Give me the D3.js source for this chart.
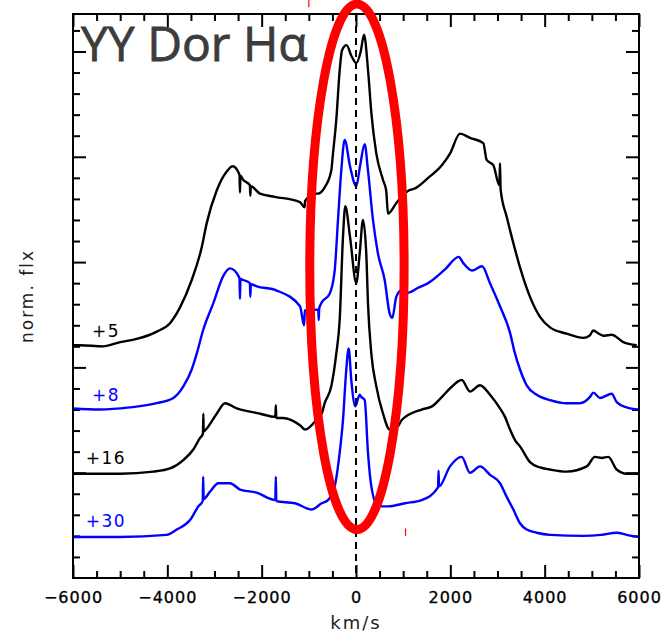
<!DOCTYPE html>
<html>
<head>
<meta charset="utf-8">
<script src="https://cdn.jsdelivr.net/npm/d3@7"></script>
<style>
    body { margin: 0; background: #fff; }
    svg text { font-family: "DejaVu Sans", sans-serif; }
</style>
</head>
<body>
<svg id="specsvg" width="664" height="637"></svg>
<script>
// spectra: [velocity km/s, normalised flux]
var spec5 = [[-6000, 1.01], [-5850, 1.01], [-5360, 1.00], [-5000, 1.04], [-4650, 1.07], [-4225, 1.14], [-3943, 1.22],
    [-3731, 1.37], [-3483, 1.63], [-3271, 1.94], [-3165, 2.17], [-2953, 2.48], [-2741, 2.66], [-2614, 2.71], [-2470, 2.63],
    [-2460, 2.46], [-2450, 2.62], [-2389, 2.58], [-2250, 2.53], [-2240, 2.43], [-2230, 2.52], [-2035, 2.45], [-1720, 2.42],
    [-1190, 2.37], [-1090, 2.32], [-1080, 2.38], [-870, 2.45], [-806, 2.45], [-664, 2.51], [-524, 2.67], [-488, 2.83],
    [-418, 3.15], [-346, 3.62], [-297, 3.81], [-200, 3.86], [-100, 3.76], [6, 3.69], [100, 3.80], [170, 3.96],
    [254, 3.63], [325, 3.22], [431, 2.83], [573, 2.58], [640, 2.48], [678, 2.26], [854, 2.36], [960, 2.42], [1117, 2.48],
    [1250, 2.50], [1530, 2.60], [1820, 2.72], [1993, 2.83], [2205, 3.02], [2417, 2.98], [2699, 2.93], [2770, 2.77],
    [2911, 2.72], [3040, 2.53], [3053, 2.74], [3066, 2.49], [3195, 2.23], [3336, 1.98], [3477, 1.75], [3689, 1.47],
    [3901, 1.28], [4113, 1.18], [4467, 1.12], [4819, 1.08], [4950, 1.10], [5031, 1.15], [5150, 1.12], [5243, 1.10],
    [5421, 1.11], [5667, 1.04], [5951, 1.01]];

var spec8 = [[-6000, 1.01], [-5427, 1.00], [-4800, 1.02], [-4225, 1.06], [-3873, 1.11], [-3660, 1.22], [-3483, 1.38],
    [-3377, 1.53], [-3237, 1.76], [-3025, 2.01], [-2813, 2.27], [-2671, 2.34], [-2470, 2.25], [-2460, 2.05], [-2450, 2.24],
    [-2396, 2.23], [-2250, 2.20], [-2240, 2.07], [-2230, 2.19], [-2105, 2.17], [-1681, 2.13], [-1187, 1.98], [-1100, 1.80],
    [-1085, 1.94], [-800, 1.95], [-790, 1.85], [-780, 1.96], [-736, 2.01], [-558, 2.10], [-452, 2.32], [-382, 2.80],
    [-312, 3.27], [-240, 3.56], [-127, 3.31], [6, 3.12], [85, 3.31], [184, 3.52], [254, 3.27], [360, 2.80], [466, 2.48],
    [608, 2.23], [714, 1.91], [770, 1.87], [854, 2.07], [960, 2.13], [1110, 2.11], [1330, 2.16], [1530, 2.20],
    [1887, 2.33], [2177, 2.45], [2275, 2.39], [2459, 2.32], [2671, 2.36], [2841, 2.20], [3053, 1.98], [3265, 1.73],
    [3360, 1.55], [3477, 1.38], [3619, 1.23], [3831, 1.14], [4113, 1.09], [4467, 1.06], [4749, 1.06], [4961, 1.12],
    [5031, 1.16], [5173, 1.11], [5421, 1.15], [5527, 1.07], [5739, 1.02], [5985, 1.00]];

var spec16 = [[-6000, 0.99], [-5003, 0.99], [-4297, 1.01], [-3943, 1.04], [-3661, 1.12], [-3449, 1.22], [-3307, 1.33],
    [-3245, 1.37], [-3237, 1.56], [-3229, 1.39], [-3165, 1.42], [-2953, 1.56], [-2777, 1.66], [-2529, 1.61], [-2247, 1.58],
    [-2035, 1.56], [-1710, 1.53], [-1700, 1.64], [-1690, 1.52], [-1548, 1.52], [-1187, 1.45], [-1081, 1.41], [-806, 1.52],
    [-727, 1.56], [-664, 1.66], [-524, 1.82], [-418, 2.13], [-346, 2.45], [-276, 3.24], [-227, 3.53], [-127, 3.24],
    [6, 2.80], [78, 3.08], [148, 3.40], [218, 3.08], [254, 2.61], [325, 2.13], [431, 1.82], [573, 1.56], [714, 1.41],
    [890, 1.44], [969, 1.50], [1393, 1.60], [1611, 1.63], [1823, 1.72], [1993, 1.80], [2241, 1.88], [2417, 1.77],
    [2629, 1.83], [2841, 1.74], [3053, 1.61], [3159, 1.53], [3265, 1.41], [3371, 1.31], [3477, 1.25], [3689, 1.10],
    [3901, 1.05], [4113, 1.03], [4467, 1.01], [4891, 1.06], [5067, 1.15], [5209, 1.14], [5349, 1.15], [5527, 1.03],
    [5739, 0.99], [5985, 0.99]];

var spec30 = [[-6000, 0.99], [-5003, 0.99], [-4013, 1.01], [-3801, 1.06], [-3519, 1.15], [-3343, 1.28], [-3250, 1.33],
    [-3240, 1.56], [-3230, 1.35], [-3095, 1.42], [-2919, 1.50], [-2671, 1.50], [-2459, 1.44], [-2105, 1.41], [-1710, 1.34],
    [-1700, 1.56], [-1690, 1.33], [-1293, 1.31], [-939, 1.25], [-727, 1.31], [-594, 1.34], [-452, 1.47], [-346, 1.79],
    [-276, 2.10], [-206, 2.58], [-155, 2.78], [-100, 2.48], [-15, 2.23], [78, 2.34], [112, 2.32], [184, 2.29],
    [254, 1.79], [325, 1.47], [466, 1.28], [678, 1.28], [1040, 1.31], [1393, 1.34], [1740, 1.46], [1750, 1.62],
    [1760, 1.47], [1993, 1.66], [2241, 1.75], [2417, 1.60], [2629, 1.66], [2841, 1.58], [3053, 1.50], [3195, 1.37],
    [3336, 1.25], [3477, 1.12], [3619, 1.06], [3831, 1.03], [4113, 1.01], [4819, 1.00], [5200, 1.01], [5527, 1.03],
    [5739, 1.01], [5985, 0.99]];

var phases = ["+5", "+8", "+16", "+30"];
var offsets = [1.8, 1.2, 0.6, 0];
var colors = ["#000000", "#0000ff", "#000000", "#0000ff"];
var spectra = [spec5, spec8, spec16, spec30];

var xMajor = [-6000, -4000, -2000, 0, 2000, 4000, 6000];
var redMarks = [-1000, 1050];

var svg = d3.select("#specsvg"),
    margin = {top: 14, right: 25, bottom: 59, left: 73},
    width = +svg.attr("width") - margin.left - margin.right,
    height = +svg.attr("height") - margin.top - margin.bottom,
    g = svg.append("g").attr("transform", "translate(" + margin.left + "," + margin.top + ")");

var x = d3.scaleLinear().domain([-6000, 6000]).range([0, width]);
var y = d3.scaleLinear().domain([0.6, 5.956]).range([height, 0]);

var xMinor = d3.range(-6000, 6001, 500).filter(function (v) { return v % 2000 !== 0; });
var yAll = d3.range(1, 27).map(function (i) { return 0.6 + i * 0.2; });
var yMajor = yAll.filter(function (v, i) { return (i + 1) % 5 === 0; });
var yMinor = yAll.filter(function (v, i) { return (i + 1) % 5 !== 0; });

function tickAxis(axis, vals, size, tx, ty) {
    var a = g.append("g")
        .attr("transform", "translate(" + tx + "," + ty + ")")
        .call(axis.tickValues(vals).tickSize(-size).tickFormat(""));
    a.select(".domain").remove();
    a.selectAll("line").attr("stroke-width", 2);
    return a;
}

// ticks on all four sides, pointing in
tickAxis(d3.axisBottom(x), xMinor, 7, 0, height);
tickAxis(d3.axisTop(x), xMinor, 7, 0, 0);
tickAxis(d3.axisTop(x), xMajor, 13, 0, 0);
tickAxis(d3.axisLeft(y), yMinor, 7, 0, 0);
tickAxis(d3.axisLeft(y), yMajor, 13, 0, 0);
tickAxis(d3.axisRight(y), yMinor, 7, width, 0);
tickAxis(d3.axisRight(y), yMajor, 13, width, 0);

var xAxis = g.append("g")
    .attr("transform", "translate(0," + height + ")")
    .call(d3.axisBottom(x).tickValues(xMajor).tickSize(-13).tickPadding(14).tickFormat(d3.format("d")));
xAxis.select(".domain").remove();
xAxis.selectAll("line").attr("stroke-width", 2);
xAxis.selectAll("text")
    .attr("font-size", 16)
    .attr("letter-spacing", 1)
    .attr("fill", "#000")
    .attr("stroke", "#000")
    .attr("stroke-width", 0.3)
    .style("font-family", "DejaVu Sans, sans-serif");

// spectra
var line = d3.line()
    .curve(d3.curveMonotoneX)
    .x(function (d) { return x(d[0]); })
    .y(function (d) { return y(d[1]); });

spectra.forEach(function (s, i) {
    g.append("path")
        .datum(s.map(function (d) { return [d[0], d[1] + offsets[i]]; }))
        .attr("fill", "none")
        .attr("stroke", colors[i])
        .attr("stroke-width", 2.4)
        .attr("stroke-linejoin", "round")
        .attr("d", line);

    g.append("text")
        .attr("x", x(-5300))
        .attr("y", y(1 + offsets[i]) - 9)
        .attr("text-anchor", "middle")
        .attr("font-size", 17)
        .attr("letter-spacing", 1.5)
        .attr("fill", colors[i])
        .text(phases[i]);
});

// rest velocity
g.append("line")
    .attr("x1", x(0)).attr("x2", x(0))
    .attr("y1", 0).attr("y2", height)
    .attr("stroke", "#000")
    .attr("stroke-width", 2)
    .attr("stroke-dasharray", "7,5");

// frame
g.append("rect")
    .attr("width", width)
    .attr("height", height)
    .attr("fill", "none")
    .attr("stroke", "#000")
    .attr("stroke-width", 2);

// red highlight round the line core
g.append("ellipse")
    .attr("cx", x(20))
    .attr("cy", (y(6.05) + y(1.06)) / 2)
    .attr("rx", x(1000) - x(0))
    .attr("ry", (y(1.06) - y(6.05)) / 2)
    .attr("fill", "none")
    .attr("stroke", "#ff0000")
    .attr("stroke-width", 9);

g.append("line")
    .attr("x1", x(redMarks[0])).attr("x2", x(redMarks[0]))
    .attr("y1", y(6.09)).attr("y2", y(6.02))
    .attr("stroke", "#ff0000").attr("stroke-width", 1.2);
g.append("line")
    .attr("x1", x(redMarks[1])).attr("x2", x(redMarks[1]))
    .attr("y1", y(1.07)).attr("y2", y(1.0))
    .attr("stroke", "#ff0000").attr("stroke-width", 1.2);

// title and axis labels
g.append("text")
    .attr("x", 8)
    .attr("y", 47)
    .attr("font-size", 48)
    .attr("fill", "#3c3c3c")
    .attr("stroke", "#3c3c3c")
    .attr("stroke-width", 0.8)
    .style("font-family", "'Comic Sans MS', 'Open Sans', sans-serif")
    .text("YY Dor H\u03b1");

svg.append("text")
    .attr("x", margin.left + width / 2)
    .attr("y", 629)
    .attr("text-anchor", "middle")
    .attr("font-size", 18)
    .attr("letter-spacing", 2)
    .attr("fill", "#222")
    .text("km/s");

svg.append("text")
    .attr("transform", "translate(33," + (margin.top + 282) + ") rotate(-90)")
    .attr("text-anchor", "middle")
    .attr("font-size", 17)
    .attr("letter-spacing", 2)
    .attr("fill", "#222")
    .text("norm. flx");
</script>
</body>
</html>
